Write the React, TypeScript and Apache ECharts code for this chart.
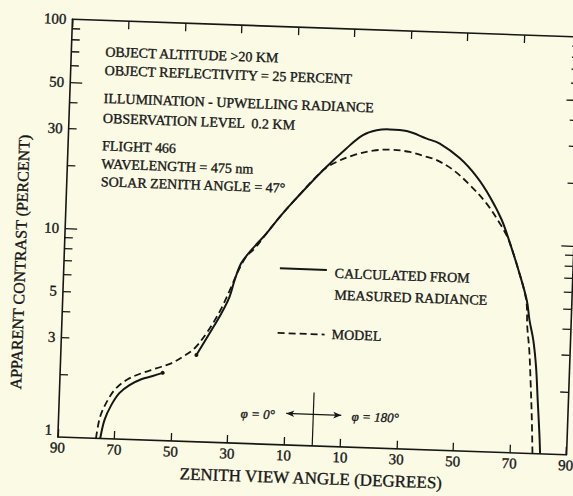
import React, { useEffect, useRef } from "react";
import * as echarts from "echarts";

// ---- axis ticks / labels ----
const xTickValues = [-90, -70, -50, -30, -10, 10, 30, 50, 70, 90];
const yLabelValues = [1, 3, 5, 10, 30, 50, 100];
const yMinorTickValues = [2, 3, 4, 5, 6, 7, 8, 9, 20, 30, 40, 60, 70, 80, 90];
const yLongTickValues = [10, 50];

// ---- data (x < 0 : phi = 0 deg side, x > 0 : phi = 180 deg side) ----
// calculated from measured radiance, low segment
const measuredLowX = [-75.0, -73.7, -71.5, -68.8, -65.3, -61.2, -57.2, -53.7];
const measuredLowY = [1.0, 1.23, 1.45, 1.66, 1.82, 1.95, 2.03, 2.11];
// calculated from measured radiance, main segment
const measuredX = [-42.0, -37.6, -33.7, -31.0, -29.4, -27.3, -23.9, -18.7, -14.2, -9.1, 0.5, 8.5, 14.2, 19.0, 23.6, 29.6, 36.8, 41.5, 48.8, 55.0, 59.9, 64.4, 67.6, 70.9, 74.2, 75.4, 77.0, 78.3, 79.3, 80.3, 80.8];
const measuredY = [2.6, 3.32, 4.15, 5.0, 6.02, 7.26, 8.42, 10.2, 12.3, 14.9, 20.9, 26.8, 31.2, 33.1, 33.6, 33.2, 30.8, 29.3, 25.1, 20.6, 16.6, 12.9, 10.0, 7.49, 5.4, 4.34, 3.49, 2.6, 1.8, 1.25, 1.0];
// model
const modelX = [-76.5, -75.3, -72.8, -70.0, -66.0, -61.3, -56.1, -50.8, -46.8, -42.7, -38.7, -36.3, -33.7, -30.5, -28.4, -25.6, -22.7, -18.7, -14.2, -9.1, 0.5, 5.2, 11.0, 18.0, 23.9, 31.0, 37.0, 40.6, 46.6, 52.7, 58.8, 63.8, 66.5, 67.6, 70.9, 74.0, 74.7, 75.7, 76.6, 77.4, 78.1];
const modelY = [1.0, 1.27, 1.53, 1.75, 1.94, 2.08, 2.21, 2.35, 2.54, 2.8, 3.32, 3.76, 4.4, 5.58, 6.6, 7.82, 8.6, 10.2, 12.3, 14.9, 20.9, 23.0, 24.9, 26.4, 26.9, 26.4, 25.2, 24.4, 22.0, 18.75, 15.4, 12.4, 10.8, 10.0, 7.49, 5.4, 4.03, 3.12, 2.16, 1.5, 1.0];

// annotation (phi direction cross)
const crossX = [-9.5, 0, 10];
const crossY = [1.0, 1.415, 1.8];

const noteLines = [
  "OBJECT ALTITUDE >20 KM",
  "OBJECT REFLECTIVITY = 25 PERCENT",
  "ILLUMINATION - UPWELLING RADIANCE",
  "OBSERVATION LEVEL  0.2 KM",
  "FLIGHT 466",
  "WAVELENGTH = 475 nm",
  "SOLAR ZENITH ANGLE = 47\u00b0",
];
const noteLineY = [59.5, 78, 106, 126, 153.5, 171.6, 189.4];

const legendNames = ["CALCULATED FROM", "MEASURED RADIANCE", "MODEL"];

const ink = "#161616";
const paper = "#fbfbe5";
const serif = '"Liberation Serif", "Times New Roman", serif';

const L = 65;
const T = 28;
const W = 508.5;
const H = 418;

const lg = (v: number) => Math.log10(v);
const pairs = (xs: number[], ys: number[]) => xs.map((x, i) => [x, ys[i]]);

export default function App() {
  const ref = useRef<HTMLDivElement>(null);

  useEffect(() => {
    if (!ref.current) return;
    const chart = echarts.init(ref.current, undefined, { renderer: "svg" });

    const tickStyle = { color: ink, width: 1.3 };
    const lineAxis = { show: true, onZero: false, lineStyle: { color: ink, width: 1.6 } };
    const noLine = { show: false, onZero: false };
    const heavy = { textBorderColor: ink, textBorderWidth: 0.35 };

    const lowData: any[] = pairs(measuredLowX, measuredLowY).map((p, i, a) =>
      i === a.length - 1 ? { value: p, symbol: "circle", symbolSize: 4 } : { value: p }
    );
    const mainData: any[] = pairs(measuredX, measuredY).map((p, i) =>
      i === 0 ? { value: p, symbol: "circle", symbolSize: 4 } : { value: p }
    );

    const txt = (text: string, x: number, y: number, font: string, align = "left", extra: any = {}) => ({
      type: "text",
      x,
      y,
      silent: true,
      ...extra,
      style: {
        text,
        fill: ink,
        font,
        textAlign: align,
        textVerticalAlign: "middle",
        stroke: ink,
        lineWidth: 0.35,
      },
    });

    const graphic: any[] = [];
    noteLines.forEach((t, i) => {
      graphic.push(txt(t, 99, noteLineY[i], `14px ${serif}`));
    });
    graphic.push(
      txt("APPARENT CONTRAST (PERCENT)", 21, 272.5, `16px ${serif}`, "center", { rotation: Math.PI / 2 }),
      {
        type: "line",
        silent: true,
        shape: { x1: 281, y1: 269.7, x2: 328, y2: 269.7 },
        style: { stroke: ink, lineWidth: 2 },
      },
      txt(legendNames[0], 336, 272.8, `14px ${serif}`),
      txt(legendNames[1], 336.5, 294.5, `14px ${serif}`),
      {
        type: "line",
        silent: true,
        shape: { x1: 281, y1: 334.3, x2: 328, y2: 334.3 },
        style: { stroke: ink, lineWidth: 1.8, lineDash: [7, 4] },
      },
      txt(legendNames[2], 335, 334, `14px ${serif}`),
      txt("\u03c6 = 0\u00b0", 281, 416, `italic 13px ${serif}`, "right"),
      txt("\u03c6 = 180\u00b0", 358, 415, `italic 13px ${serif}`, "left")
    );

    const valueHelperY = (position: string, tickVals: number[], len: number, showLine: boolean, labels: boolean) => ({
      type: "value",
      position,
      min: 0,
      max: 2,
      axisLine: showLine ? lineAxis : noLine,
      axisTick: { show: true, inside: true, length: len, customValues: tickVals.map(lg), lineStyle: tickStyle },
      axisLabel: labels
        ? {
            show: true,
            customValues: yLabelValues.map(lg),
            formatter: (v: number) => {
              const n = Math.round(Math.pow(10, v));
              return n === 1 ? "{lo|1}" : String(n);
            },
            rich: { lo: { padding: [0, 0, 14, 0], fontSize: 15, fontFamily: serif, color: ink, ...heavy } },
            color: ink,
            fontFamily: serif,
            fontSize: 15,
            margin: 6,
            ...heavy,
          }
        : { show: false },
      splitLine: { show: false },
    });

    chart.setOption({
      animation: false,
      backgroundColor: paper,
      grid: { left: L, top: T, width: W, height: H, containLabel: false },
      xAxis: [
        {
          type: "value",
          position: "bottom",
          min: -90,
          max: 90,
          axisLine: lineAxis,
          axisTick: { show: true, inside: true, length: 8, customValues: xTickValues, lineStyle: tickStyle },
          axisLabel: {
            show: true,
            customValues: xTickValues,
            formatter: (v: number) => String(Math.abs(v)),
            color: ink,
            fontFamily: serif,
            fontSize: 15,
            margin: 3,
            ...heavy,
          },
          splitLine: { show: false },
          name: "ZENITH VIEW ANGLE (DEGREES)",
          nameLocation: "middle",
          nameGap: 24,
          nameTextStyle: { color: ink, fontFamily: serif, fontSize: 17, ...heavy },
        },
        {
          type: "value",
          position: "top",
          min: -90,
          max: 90,
          axisLine: lineAxis,
          axisTick: { show: true, inside: true, length: 8, customValues: xTickValues, lineStyle: tickStyle },
          axisLabel: { show: false },
          splitLine: { show: false },
        },
      ],
      yAxis: [
        {
          type: "log",
          logBase: 10,
          min: 1,
          max: 100,
          position: "left",
          axisLine: lineAxis,
          axisTick: { show: false },
          axisLabel: { show: false },
          splitLine: { show: false },
        },
        valueHelperY("left", yMinorTickValues, 8, false, true),
        valueHelperY("left", yLongTickValues, 12, false, false),
        valueHelperY("right", yMinorTickValues, 8, true, false),
        valueHelperY("right", yLongTickValues, 12, false, false),
      ],
      series: [
        {
          name: "CALCULATED FROM MEASURED RADIANCE",
          type: "line",
          xAxisIndex: 0,
          yAxisIndex: 0,
          data: lowData,
          smooth: 0.35,
          symbol: "none",
          itemStyle: { color: ink },
          lineStyle: { color: ink, width: 2 },
          silent: true,
        },
        {
          name: "CALCULATED FROM MEASURED RADIANCE",
          type: "line",
          xAxisIndex: 0,
          yAxisIndex: 0,
          data: mainData,
          smooth: 0.35,
          symbol: "none",
          itemStyle: { color: ink },
          lineStyle: { color: ink, width: 2 },
          silent: true,
          markLine: {
            silent: true,
            animation: false,
            symbol: ["none", "none"],
            label: { show: false },
            emphasis: { disabled: true },
            lineStyle: { color: ink, width: 1.2, type: "solid" },
            data: [
              [{ coord: [crossX[1], crossY[0]] }, { coord: [crossX[1], crossY[2]] }],
              [{ coord: [crossX[1], crossY[1]] }, { coord: [crossX[0], crossY[1]], symbol: "arrow", symbolSize: [5, 8] }],
              [{ coord: [crossX[1], crossY[1]] }, { coord: [crossX[2], crossY[1]], symbol: "arrow", symbolSize: [5, 8] }],
            ],
          },
        },
        {
          name: "MODEL",
          type: "line",
          xAxisIndex: 0,
          yAxisIndex: 0,
          data: pairs(modelX, modelY),
          smooth: 0.35,
          symbol: "none",
          lineStyle: { color: ink, width: 1.8, type: [7, 4] },
          silent: true,
        },
      ],
      graphic,
    });

    return () => chart.dispose();
  }, []);

  return (
    <div
      style={{
        position: "fixed",
        left: 0,
        top: 0,
        width: 573,
        height: 496,
        overflow: "hidden",
        background: paper,
      }}
    >
      <div
        ref={ref}
        style={{
          position: "absolute",
          left: 0,
          top: 0,
          width: 600,
          height: 496,
          transform: "rotate(2deg)",
          transformOrigin: "319.5px 237px",
        }}
      />
    </div>
  );
}
